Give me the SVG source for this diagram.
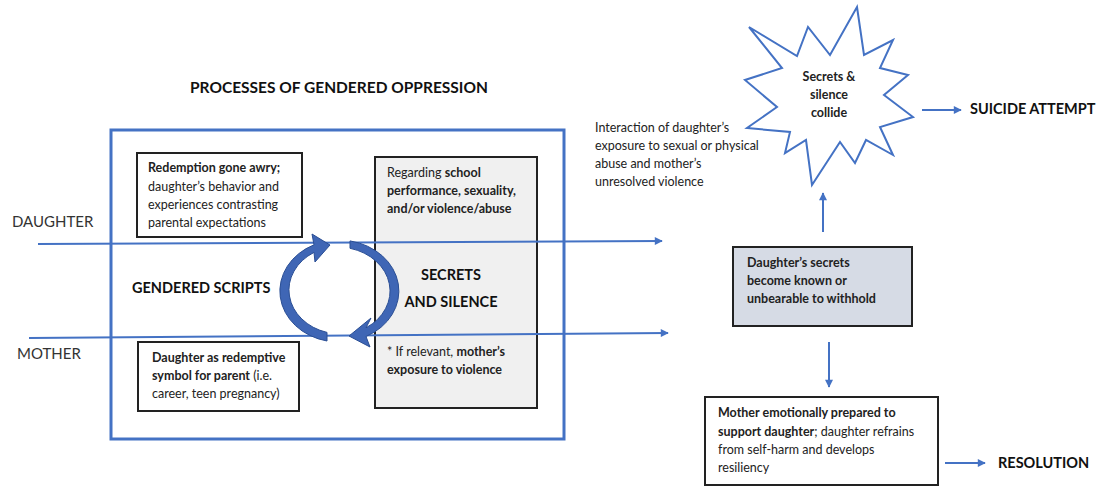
<svg xmlns="http://www.w3.org/2000/svg" width="1111" height="487" viewBox="0 0 1111 487">
<defs>
<style>
text{font-family:Lato,"Liberation Sans",sans-serif;fill:#222;}
.t{font-size:12.5px;}
.b{font-weight:bold;}
.h{font-size:14.5px;font-weight:bold;fill:#111;}
.lbl{font-size:15px;fill:#333;}
.box{fill:#fff;stroke:#222;stroke-width:2;}
.ln{stroke:#4472c4;stroke-width:2;fill:none;}
.ca{fill:#3f66b5;stroke:#2a4e94;stroke-width:1;}
</style>
<marker id="ah" viewBox="0 0 10 10" refX="9" refY="5" markerWidth="9" markerHeight="8" markerUnits="userSpaceOnUse" orient="auto">
<path d="M0,0 L10,5 L0,10 z" fill="#4472c4"/>
</marker>
</defs>
<rect width="1111" height="487" fill="#fff"/>

<g id="title"><text x="190" y="93" class="h" style="font-size:15.5px">PROCESSES OF GENDERED OPPRESSION</text></g>

<g id="outer-box"><rect x="111" y="130" width="453" height="309" fill="none" stroke="#4472c4" stroke-width="3"/></g>

<g id="redemption-box">
<rect x="137" y="153" width="165" height="84" class="box"/>
<text class="t" x="148" y="172"><tspan class="b">Redemption gone awry;</tspan></text>
<text class="t" x="148" y="191">daughter’s behavior and</text>
<text class="t" x="148" y="209">experiences contrasting</text>
<text class="t" x="148" y="227">parental expectations</text>
</g>

<g id="symbol-box">
<rect x="138" y="342" width="161" height="69" class="box"/>
<text class="t b" x="152" y="362">Daughter as redemptive</text>
<text class="t" x="152" y="380"><tspan class="b">symbol for parent</tspan> (i.e.</text>
<text class="t" x="152" y="398">career, teen pregnancy)</text>
</g>

<g id="secrets-box">
<rect x="375" y="157" width="162" height="251" fill="#f0f0f0" stroke="#222" stroke-width="2"/>
<text class="t" x="387" y="177">Regarding <tspan class="b">school</tspan></text>
<text class="t b" x="387" y="195">performance, sexuality,</text>
<text class="t b" x="387" y="213">and/or violence/abuse</text>
<text class="h" x="451" y="280" text-anchor="middle">SECRETS</text>
<text class="h" x="451" y="307" text-anchor="middle">AND SILENCE</text>
<text class="t" x="387" y="356">* If relevant, <tspan class="b">mother’s</tspan></text>
<text class="t b" x="387" y="374">exposure to violence</text>
</g>

<g id="gendered-scripts"><text class="h" x="132" y="293">GENDERED SCRIPTS</text></g>
<g id="daughter-label"><text class="lbl" x="12" y="227">DAUGHTER</text></g>
<g id="mother-label"><text class="lbl" x="17" y="359">MOTHER</text></g>

<g id="connectors">
<line x1="38" y1="244" x2="662" y2="241" class="ln" marker-end="url(#ah)"/>
<line x1="29" y1="338" x2="668" y2="333" class="ln" marker-end="url(#ah)"/>
<line x1="823" y1="232" x2="823" y2="193" class="ln" marker-end="url(#ah)"/>
<line x1="829" y1="342" x2="829" y2="387" class="ln" marker-end="url(#ah)"/>
<line x1="922" y1="110" x2="961" y2="110" class="ln" marker-end="url(#ah)"/>
<line x1="945" y1="463" x2="985" y2="463" class="ln" marker-end="url(#ah)"/>
</g>

<g id="cycle-arrows">
<path class="ca" d="M327,332.4 L327,341 A59,51 0 0 1 314,244.8 L312,234 L330,245 L315,262 L314,252.4 A52,44 0 0 0 327,332.4 Z"/>
<path class="ca" d="M350,240.9 L350,248.3 A53,44 0 0 1 366,327.8 L371,318 L349,336 L370,347 L366,336.5 A60,51 0 0 0 350,240.9 Z"/>
</g>

<g id="collide-star">
<polygon points="857,7 864,55 893,40 880,68 908,75 884,95 913,117 880,127 893,155 866,140 855,163 840,142 812,185 806,140 785,153 790,132 747,128 777,107 745,80 782,68 749,27 797,56 808,27 830,55" fill="#fff" stroke="#4472c4" stroke-width="2" stroke-linejoin="miter"/>
<text class="t b" x="829" y="81" text-anchor="middle">Secrets &amp;</text>
<text class="t b" x="829" y="99" text-anchor="middle">silence</text>
<text class="t b" x="829" y="117" text-anchor="middle">collide</text>
</g>

<g id="interaction-text">
<text class="t" x="595" y="132">Interaction of daughter’s</text>
<text class="t" x="595" y="150">exposure to sexual or physical</text>
<text class="t" x="595" y="168">abuse and mother’s</text>
<text class="t" x="595" y="186">unresolved violence</text>
</g>

<g id="suicide"><text class="h" x="970" y="114">SUICIDE ATTEMPT</text></g>

<g id="known-box">
<rect x="733" y="247" width="179" height="79" fill="#d6dbe5" stroke="#222" stroke-width="2"/>
<text class="t b" x="747" y="267">Daughter’s secrets</text>
<text class="t b" x="747" y="285">become known or</text>
<text class="t b" x="747" y="303">unbearable to withhold</text>
</g>

<g id="support-box">
<rect x="705" y="397" width="233" height="88" class="box"/>
<text class="t b" x="718" y="417">Mother emotionally prepared to</text>
<text class="t" x="718" y="436"><tspan class="b">support daughter</tspan>; daughter refrains</text>
<text class="t" x="718" y="454">from self-harm and develops</text>
<text class="t" x="718" y="472">resiliency</text>
</g>

<g id="resolution"><text class="h" x="998" y="468">RESOLUTION</text></g>
</svg>
